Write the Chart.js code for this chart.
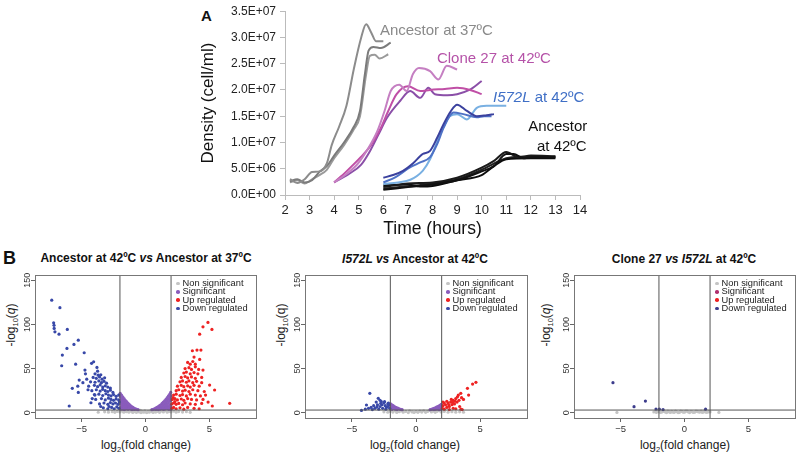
<!DOCTYPE html>
<html>
<head>
<meta charset="utf-8">
<script src="https://cdn.jsdelivr.net/npm/chart.js@4.4.1/dist/chart.umd.min.js"></script>
<style>
body { margin: 0; background: #fff; font-family: "Liberation Sans", Arial, sans-serif; }
#page { position: relative; width: 800px; height: 457px; overflow: hidden; }
.wrap { position: absolute; }
.txt { position: absolute; white-space: nowrap; color: #111; }
.c { transform: translate(-50%, -50%); }
.rot { transform: translate(-50%, -50%) rotate(-90deg); }
.ptitle { font-weight: bold; font-size: 12px; }
.axt { font-size: 12px; color: #222; }
.leg { position: absolute; font-size: 9.3px; line-height: 8.3px; color: #222; }
.leg span.dot { display: inline-block; width: 3.5px; height: 3.5px; border-radius: 50%; margin-right: 3px; vertical-align: middle; }
</style>
</head>
<body>
<div id="page">
  <div class="txt" style="left:201px;top:7px;font-weight:bold;font-size:15px;">A</div>
  <div class="wrap" style="left:190px;top:0;width:410px;height:240px;"><canvas id="growth"></canvas></div>

  <div class="txt" style="left:3px;top:248px;font-weight:bold;font-size:18px;">B</div>
  <div class="txt c ptitle" style="left:146px;top:258px;">Ancestor at 42ºC <i>vs</i> Ancestor at 37ºC</div>
  <div class="txt c ptitle" style="left:415px;top:259px;"><i>I572L vs</i> Ancestor at 42ºC</div>
  <div class="txt c ptitle" style="left:684px;top:259px;">Clone 27 <i>vs I572L</i> at 42ºC</div>

  <div class="txt rot axt" style="left:12px;top:325px;">-log<sub style="font-size:7.5px">10</sub>(<i>q</i>)</div>
  <div class="txt rot axt" style="left:282px;top:325px;">-log<sub style="font-size:7.5px">10</sub>(q)</div>
  <div class="txt rot axt" style="left:547px;top:325px;">-log<sub style="font-size:7.5px">10</sub>(<i>q</i>)</div>
  <div class="txt c axt" style="left:146px;top:446px;">log<sub style="font-size:7.5px">2</sub>(fold change)</div>
  <div class="txt c axt" style="left:415px;top:446px;">log<sub style="font-size:7.5px">2</sub>(fold change)</div>
  <div class="txt c axt" style="left:685px;top:446px;">log<sub style="font-size:7.5px">2</sub>(fold change)</div>

  <div class="wrap" style="left:0;top:240px;width:270px;height:217px;"><canvas id="v1"></canvas></div>
  <div class="wrap" style="left:270px;top:240px;width:265px;height:217px;"><canvas id="v2"></canvas></div>
  <div class="wrap" style="left:535px;top:240px;width:265px;height:217px;"><canvas id="v3"></canvas></div>

  <div class="leg" id="leg1" style="left:176px;top:279px;"></div>
  <div class="leg" id="leg2" style="left:446px;top:279px;"></div>
  <div class="leg" id="leg3" style="left:715px;top:279px;"></div>
</div>

<script>
// ---- Panel A: growth curves (time in hours, density in cells/ml) ----
const anc37A = [[2.2,3.0e6],[2.5,2.3e6],[2.8,3.0e6],[3.1,4.4e6],[3.4,4.5e6],[3.7,6.0e6],[3.9,9.5e6],[4.2,1.3e7],[4.5,1.7e7],[4.8,2.4e7],[5.1,3.0e7],[5.3,3.25e7],[5.5,3.1e7],[5.7,2.93e7],[6.0,2.93e7]];
const anc37B = [[2.2,2.6e6],[2.5,3.0e6],[2.8,2.4e6],[3.1,2.8e6],[3.4,4.4e6],[3.7,5.5e6],[4.0,7.5e6],[4.4,1.0e7],[4.8,1.3e7],[5.05,1.6e7],[5.25,2.3e7],[5.4,2.75e7],[5.6,2.82e7],[5.9,2.8e7],[6.3,2.9e7]];
const anc37C = [[2.2,2.4e6],[2.5,2.8e6],[2.8,2.2e6],[3.1,3.0e6],[3.4,3.8e6],[3.7,4.8e6],[4.0,7.0e6],[4.4,9.5e6],[4.8,1.25e7],[5.05,1.5e7],[5.3,2.3e7],[5.45,2.65e7],[5.65,2.67e7],[5.85,2.6e7],[6.2,2.68e7]];
const clone27A = [[4.0,2.4e6],[4.5,4.0e6],[4.95,5.9e6],[5.4,9.0e6],[5.76,1.22e7],[6.05,1.6e7],[6.3,1.98e7],[6.65,2.1e7],[6.95,1.98e7],[7.2,2.3e7],[7.45,2.42e7],[7.9,2.36e7],[8.24,2.2e7],[8.58,2.46e7],[9.0,2.39e7]];
const clone27B = [[4.0,2.4e6],[4.5,4.5e6],[5.08,7.2e6],[5.5,9.5e6],[5.9,1.28e7],[6.2,1.6e7],[6.54,1.92e7],[7.0,2.07e7],[7.5,1.98e7],[7.9,2.0e7],[8.5,2.02e7],[9.0,2.04e7],[9.53,2.0e7],[10.0,1.92e7]];
const clone27C = [[4.0,2.4e6],[4.6,4.0e6],[5.1,5.8e6],[5.46,8.4e6],[5.8,1.15e7],[6.15,1.47e7],[6.68,1.79e7],[7.09,1.98e7],[7.5,1.85e7],[7.83,2.04e7],[8.1,1.92e7],[8.6,1.9e7],[9.0,1.92e7],[9.5,2.0e7],[10.0,2.17e7]];
const i572lA = [[6.0,3.3e6],[6.4,3.8e6],[6.8,4.6e6],[7.2,6.0e6],[7.6,7.8e6],[7.9,8.4e6],[8.2,1.1e7],[8.45,1.35e7],[8.75,1.6e7],[9.0,1.72e7],[9.4,1.6e7],[9.8,1.5e7],[10.2,1.52e7],[10.5,1.54e7]];
const i572lB = [[6.0,2.4e6],[6.5,3.4e6],[7.1,5.3e6],[7.5,6.2e6],[7.9,7.2e6],[8.2,9.8e6],[8.45,1.28e7],[8.86,1.57e7],[9.25,1.54e7],[9.8,1.48e7],[10.1,1.5e7],[10.4,1.5e7]];
const i572lC = [[6.0,2.1e6],[6.6,2.4e6],[7.1,2.9e6],[7.6,4.6e6],[7.9,6.8e6],[8.2,1.03e7],[8.45,1.3e7],[8.7,1.5e7],[9.0,1.54e7],[9.4,1.44e7],[9.8,1.66e7],[10.2,1.7e7],[11.0,1.7e7]];
const anc42A = [[6.0,1.0e6],[7.0,1.5e6],[8.0,2.0e6],[9.0,2.8e6],[10.0,4.5e6],[10.5,5.5e6],[11.0,7.8e6],[11.3,7.8e6],[11.7,7.0e6],[12.0,7.2e6],[13.0,7.2e6]];
const anc42B = [[6.0,1.5e6],[7.0,2.2e6],[8.0,2.4e6],[9.0,3.3e6],[10.0,5.2e6],[10.5,6.5e6],[11.0,8.2e6],[11.5,7.2e6],[12.0,7.5e6],[13.0,7.4e6]];
const anc42C = [[6.0,1.8e6],[7.0,2.0e6],[7.5,1.6e6],[8.0,1.7e6],[9.0,2.8e6],[10.0,3.8e6],[10.5,5.5e6],[11.0,6.8e6],[12.0,7.0e6],[13.0,7.0e6]];
const anc42D = [[6.0,1.2e6],[8.0,2.2e6],[9.0,3.0e6],[10.0,4.8e6],[11.0,7.0e6],[11.5,7.3e6],[13.0,7.3e6]];

const growthSeries = [
  { pts: anc37A, color: '#8c8c8c' },
  { pts: anc37B, color: '#7b7b7b' },
  { pts: anc37C, color: '#9a9a9a' },
  { pts: clone27A, color: '#c57fc2' },
  { pts: clone27B, color: '#c04fa6' },
  { pts: clone27C, color: '#8b4fa8' },
  { pts: i572lA, color: '#3b419e' },
  { pts: i572lB, color: '#4f72c6' },
  { pts: i572lC, color: '#79b0e2' },
  { pts: anc42A, color: '#111111' },
  { pts: anc42B, color: '#1a1a1a' },
  { pts: anc42C, color: '#0c0c0c' },
  { pts: anc42D, color: '#222222' }
];

// ---- Panel B: volcano plots [log2 fold change, -log10 q] ----
const v1NonSig = [[-3.7,0.5],[-3.2,1.0],[-2.9,0.6],[-2.6,1.2],[-2.4,0.4],[-2.2,1.5],[-2.0,0.8],[-1.8,1.8],[-1.7,0.5],[-1.5,1.2],[-1.4,2.2],[-1.3,0.6],[-1.1,1.6],[-1.0,0.3],[-0.9,2.4],[-0.8,1.0],[-0.7,0.4],[-0.6,1.8],[-0.5,0.9],[-0.4,2.6],[-0.35,0.2],[-0.25,1.3],[-0.15,0.5],[-0.05,2.0],[0.0,0.8],[0.1,0.2],[0.2,1.5],[0.3,0.6],[0.4,2.4],[0.5,1.1],[0.6,0.3],[0.7,1.9],[0.8,0.7],[0.9,2.5],[1.0,1.3],[1.1,0.4],[1.25,2.0],[1.4,0.9],[1.55,2.6],[1.7,0.5],[1.85,1.6],[2.0,0.9],[2.2,1.9],[2.4,0.5],[2.6,1.3],[2.9,0.7],[3.2,1.1],[3.5,0.4]];
const v1Sig = [[-1.98,22],[-1.97,18],[-1.96,14],[-1.95,10],[-1.94,6],[-1.93,4],[-1.88,20],[-1.87,16],[-1.86,12],[-1.85,8],[-1.84,5],[-1.78,18],[-1.77,14],[-1.76,10],[-1.75,7],[-1.74,4],[-1.68,16],[-1.67,12],[-1.66,9],[-1.65,6],[-1.64,3.6],[-1.58,14],[-1.57,11],[-1.56,8],[-1.55,5],[-1.48,12.5],[-1.47,9.5],[-1.46,7],[-1.45,4.5],[-1.38,11],[-1.37,8.5],[-1.36,6],[-1.35,4],[-1.28,9.5],[-1.27,7],[-1.26,5],[-1.18,8],[-1.17,6],[-1.16,4.2],[-1.08,7],[-1.07,5],[-1.06,3.6],[-0.98,6],[-0.97,4.3],[-0.88,5],[-0.87,3.7],[-0.78,4.3],[-0.68,3.8],[-0.58,3.4],
  [0.5,3.4],[0.6,3.8],[0.7,4.4],[0.8,5.2],[0.8,3.7],[0.9,6],[0.9,4.2],[1.0,7],[1.0,4.8],[1.0,3.5],[1.1,8],[1.1,5.6],[1.1,4],[1.2,9],[1.2,6.5],[1.2,4.4],[1.3,10.5],[1.3,7.5],[1.3,5],[1.4,12],[1.4,8.5],[1.4,5.5],[1.4,3.8],[1.5,13.5],[1.5,10],[1.5,6.5],[1.5,4.2],[1.6,15],[1.6,11],[1.6,7.5],[1.6,4.8],[1.7,17],[1.7,13],[1.7,9],[1.7,5.5],[1.8,19],[1.8,15],[1.8,11],[1.8,7],[1.8,4],[1.9,21],[1.9,17],[1.9,13],[1.9,9],[1.9,5],[1.97,23],[1.97,19],[1.97,14],[1.97,8],[1.97,4]];
const v1Down = [[-7.34,127.5],[-6.7,119],[-7.19,101.8],[-7.16,99],[-7.15,95.5],[-7.09,91.6],[-6.77,89],[-6.12,94.3],[-5.6,77.4],[-5.26,82.2],[-6.15,72.8],[-6.51,65.3],[-4.8,67.9],[-6.56,53.2],[-5.47,55],[-4.22,55.9],[-4.06,57.7],[-4.74,48.3],[-3.8,51.3],[-3.75,47],[-4.7,44.1],[-5.19,37],[-5.73,27.6],[-5.3,30],[-5.26,23],[-5.97,7.6],[-4.27,11.3],[-4.17,16],[-3.96,20],[-4.9,34],[-4.5,26],[-4.6,38],
  [-3.95,44],[-3.7,42.5],[-3.5,43],[-4.1,40],[-3.85,39],[-3.6,40.5],[-3.4,38],[-3.2,39.5],[-4.3,35],[-3.95,34.5],[-3.65,36],[-3.45,34],[-3.25,35.5],[-3.05,33.5],[-4.45,30],[-4.0,31],[-3.75,29.5],[-3.55,31.5],[-3.35,29],[-3.15,30.5],[-2.95,29],[-2.75,28],[-4.2,25],[-3.85,26],[-3.55,24.5],[-3.35,26.5],[-3.15,25],[-2.95,24],[-2.75,25.5],[-2.55,23],[-4.0,20.5],[-3.65,21],[-3.35,19.5],[-3.1,21.5],[-2.9,20],[-2.7,19],[-2.5,20.5],[-2.3,18.5],[-2.1,20],[-3.9,15],[-3.45,16],[-3.15,14.5],[-2.9,16.5],[-2.7,15],[-2.5,14],[-2.3,15.5],[-2.1,14.5],[-3.6,10],[-3.25,11],[-2.95,9.5],[-2.75,11.5],[-2.55,10],[-2.35,11],[-2.15,9.5],[-2.05,12],[-3.3,5.5],[-2.95,4.5],[-2.65,6],[-2.45,4.5],[-2.25,6.5],[-2.08,5],[-2.85,7],[-3.5,7]];
const v1Up = [[4.89,102.3],[4.5,97.3],[5.2,94.3],[4.24,89],[3.67,70.2],[4.03,71],[4.34,71],[4.24,60.4],[3.8,63],[4.5,48.3],[4.16,49],[5.02,31.3],[5.41,25.7],[6.59,10.6],[5.23,7.6],[4.9,12],[4.7,20],[4.4,40],[3.9,55],
  [3.3,57],[3.5,55],[3.7,58],[3.1,50],[3.4,51],[3.6,49],[3.9,52],[3.0,45],[3.2,46],[3.5,44],[3.8,45.5],[4.1,44],[2.8,40],[3.1,41],[3.3,39.5],[3.6,40.5],[3.9,39],[2.7,35],[2.9,36],[3.2,34.5],[3.4,36],[3.7,34],[4.0,35.5],[4.4,34],[2.5,30],[2.8,31],[3.0,29.5],[3.3,30.5],[3.5,29],[3.8,31],[4.2,30],[2.4,25],[2.6,26],[2.9,24.5],[3.1,25.5],[3.4,24],[3.7,26],[4.1,25],[4.6,24],[2.2,20],[2.4,21],[2.7,19.5],[2.9,20.5],[3.2,19],[3.5,21],[3.9,20],[4.3,19],[2.1,15],[2.3,16],[2.5,14.5],[2.8,15.5],[3.0,14],[3.3,16],[3.6,15],[4.0,14.5],[4.5,15],[2.05,10],[2.2,11],[2.4,9.5],[2.6,10.5],[2.9,9],[3.1,11],[3.5,10],[3.9,9.5],[4.4,10.5],[2.05,5],[2.2,6],[2.4,4.5],[2.7,5.5],[3.0,4],[3.3,6],[3.8,5],[4.2,4.5],[2.15,17],[2.3,12.5]];

const v2NonSig = [[-2.5,1.0],[-2.2,0.5],[-2.0,1.6],[-1.8,0.7],[-1.6,2.0],[-1.5,0.3],[-1.3,1.2],[-1.1,2.4],[-1.0,0.6],[-0.8,1.5],[-0.6,0.2],[-0.5,2.0],[-0.3,0.9],[-0.15,0.3],[0.0,1.3],[0.15,0.4],[0.3,1.8],[0.45,0.7],[0.6,2.2],[0.75,0.4],[0.9,1.4],[1.05,2.5],[1.2,0.8],[1.35,1.9],[1.5,0.4],[1.65,1.6],[1.8,2.4],[1.95,0.8],[2.2,1.5],[2.5,0.5],[2.8,1.2],[3.1,0.6],[3.4,1.0],[3.7,0.5]];
const v2Sig = [[-1.98,10],[-1.97,7],[-1.96,4.5],[-1.88,9],[-1.87,6],[-1.86,3.8],[-1.78,8],[-1.77,5.5],[-1.68,7],[-1.67,4.5],[-1.58,6.2],[-1.57,3.9],[-1.48,5.5],[-1.47,3.6],[-1.38,4.8],[-1.28,4.2],[-1.18,3.7],[-1.08,3.4],
  [1.1,3.4],[1.2,3.8],[1.3,4.3],[1.4,4.9],[1.4,3.5],[1.5,5.6],[1.5,3.8],[1.6,6.3],[1.6,4.2],[1.7,7],[1.7,4.6],[1.8,7.8],[1.8,5.2],[1.8,3.6],[1.9,8.6],[1.9,5.8],[1.9,4],[1.97,9.5],[1.97,6.5],[1.97,4.2]];
const v2Down = [[-3.6,21.9],[-4.25,2.6],[-3.86,8.7],[-2.94,16.3],[-2.8,14],[-2.7,12.5],[-2.2,10],[-3.5,6],[-3.2,5],[-3.0,9],[-2.5,11],[-2.4,8],[-2.3,6],[-2.1,9],[-2.05,5],[-2.6,5],[-2.9,4],[-3.4,3.5],[-3.95,4],[-2.8,7],[-2.45,12.5],[-2.15,11],[-2.65,9],[-3.1,12],[-3.7,5],[-3.3,8],[-2.35,4],[-2.75,10.5],[-3.05,6.5],[-2.2,7]];
const v2Up = [[4.67,34.4],[4.41,32.4],[4.01,27.6],[4.1,20],[3.49,22],[3.23,18],[3.3,20],[3.1,16],[2.9,14],[2.7,12],[2.5,11],[2.3,9],[2.1,8],[2.05,5],[2.2,4],[2.4,6],[2.6,7],[2.8,9],[3.0,10],[3.2,12],[3.4,7],[3.5,4],[3.6,3.5],[2.9,5],[2.6,3.5],[3.1,4.5],[3.7,15],[2.4,13],[2.2,11],[2.75,15],[3.35,14],[3.55,17],[2.1,12],[2.55,9],[2.85,11.5],[3.05,13]];

const v3NonSig = [[-5.29,0.3],[2.69,0.3],[-2.4,0.8],[-2.3,1.6],[-2.2,0.3],[-2.1,1.9],[-2.0,1.2],[-1.9,0.4],[-1.8,0.5],[-1.7,1.8],[-1.6,1.5],[-1.5,0.7],[-1.4,0.2],[-1.3,1.9],[-1.2,0.9],[-1.1,0.3],[-1.0,1.6],[-0.9,0.6],[-0.8,0.4],[-0.7,1.9],[-0.6,1.1],[-0.5,0.2],[-0.4,0.3],[-0.3,1.7],[-0.2,1.4],[-0.1,0.5],[0.0,0.6],[0.1,1.9],[0.2,1.8],[0.3,0.8],[0.4,0.2],[0.5,1.5],[0.6,1.0],[0.7,0.3],[0.8,0.5],[0.9,1.9],[1.0,1.5],[1.1,0.8],[1.2,0.7],[1.3,1.7],[1.4,0.3],[1.5,1.0],[1.6,1.2],[1.7,0.4],[1.8,0.5],[1.9,1.6],[2.0,0.9]];
const v3Sig = [[-1.97,4],[-1.68,3.5],[1.65,4]];
const v3Down = [[-5.6,34],[-3.06,13.2],[-3.95,6.8],[-2.23,4.2]];
const v3Up = [];

const foldCutoffs = [-2, 2];   // vertical guide lines
const qCutoff = 3;             // horizontal guide line
const xTickVals = [-5, 0, 5];
const yTickVals = [0, 50, 100, 150];
const legendNames = ['Non significant', 'Significant', 'Up regulated', 'Down regulated'];

const FONT = '"Liberation Sans", Arial, sans-serif';
Chart.defaults.font.family = FONT;

function sci(v) {
  if (v === 0) return '0.0E+00';
  const e = Math.floor(Math.log10(v) + 1e-9);
  const m = v / Math.pow(10, e);
  return m.toFixed(1) + 'E+' + String(e).padStart(2, '0');
}

// text labels next to the curves, placed in data units
const curveLabels = {
  id: 'curveLabels',
  afterDatasetsDraw(chart) {
    const { ctx, scales: { x, y } } = chart;
    const items = [
      { parts: [['Ancestor at 37ºC', '']], at: [5.86, 3.12e7], color: '#8a8a8a' },
      { parts: [['Clone 27 at 42ºC', '']], at: [8.18, 2.59e7], color: '#b552a8' },
      { parts: [['I572L', 'italic '], [' at 42ºC', '']], at: [10.46, 1.85e7], color: '#3f6fc6' },
      { parts: [['Ancestor', '']], at: [11.89, 1.29e7], color: '#111' },
      { parts: [['at 42ºC', '']], at: [12.25, 9.1e6], color: '#111' }
    ];
    ctx.save();
    ctx.textBaseline = 'middle';
    ctx.textAlign = 'left';
    items.forEach(it => {
      let px = x.getPixelForValue(it.at[0]);
      const py = y.getPixelForValue(it.at[1]);
      ctx.fillStyle = it.color;
      it.parts.forEach(([t, style]) => {
        ctx.font = style + '15px ' + FONT;
        ctx.fillText(t, px, py);
        px += ctx.measureText(t).width;
      });
    });
    ctx.restore();
  }
};

new Chart(document.getElementById('growth'), {
  type: 'line',
  data: {
    datasets: growthSeries.map(s => ({
      data: s.pts.map(p => ({ x: p[0], y: p[1] })),
      borderColor: s.color,
      borderWidth: 2,
      pointRadius: 0,
      cubicInterpolationMode: 'monotone',
      fill: false
    }))
  },
  options: {
    responsive: true,
    maintainAspectRatio: false,
    animation: false,
    devicePixelRatio: 1,
    layout: { padding: { top: 10, right: 20 } },
    plugins: { legend: { display: false }, tooltip: { enabled: false } },
    scales: {
      x: {
        type: 'linear', min: 2, max: 14,
        ticks: { stepSize: 1, color: '#222', font: { size: 13 }, padding: 3 },
        grid: { drawOnChartArea: false, color: '#bbb', tickLength: 5 },
        border: { color: '#bbb' },
        title: { display: true, text: 'Time (hours)', color: '#111', font: { size: 17.5 }, padding: 0 },
        afterFit(s) { s.height = 45; }
      },
      y: {
        min: 0, max: 3.5e7,
        ticks: { stepSize: 5e6, color: '#222', font: { size: 12 }, padding: 4, callback: v => sci(v) },
        grid: { drawOnChartArea: false, color: '#bbb', tickLength: 5 },
        border: { color: '#bbb' },
        title: { display: true, text: 'Density (cell/ml)', color: '#111', font: { size: 17 }, padding: { top: 8, bottom: 0 } },
        afterFit(s) { s.width = 95; }
      }
    }
  },
  plugins: [curveLabels]
});

// box around each volcano plot
const frame = {
  id: 'frame',
  afterDraw(chart) {
    const { ctx, chartArea: a } = chart;
    ctx.save();
    ctx.strokeStyle = '#777';
    ctx.lineWidth = 1;
    ctx.strokeRect(Math.round(a.left) + 0.5, Math.round(a.top) + 0.5, Math.round(a.right - a.left), Math.round(a.bottom - a.top));
    ctx.restore();
  }
};

const XMIN = -8.65, XMAX = 8.65, YMIN = -6, YMAX = 156;

function guide(pts) {
  return { type: 'scatter', data: pts, showLine: true, borderColor: '#555', borderWidth: 1, pointRadius: 0, fill: false };
}
function dots(pts, color) {
  return { data: pts.map(p => ({ x: p[0], y: p[1] })), backgroundColor: color, borderWidth: 0, pointRadius: 1.6 };
}

function volcano(id, nonSig, sig, up, down, sigColor, downColor, yWidth, padRight) {
  const datasets = [];
  foldCutoffs.forEach(c => datasets.push(guide([{ x: c, y: YMIN }, { x: c, y: YMAX }])));
  datasets.push(guide([{ x: XMIN, y: qCutoff }, { x: XMAX, y: qCutoff }]));
  datasets.push(dots(down, downColor));
  datasets.push(dots(up, '#ee2222'));
  datasets.push(dots(sig, sigColor));
  datasets.push(dots(nonSig, '#c4c4c4'));
  new Chart(document.getElementById(id), {
    type: 'scatter',
    data: { datasets },
    options: {
      responsive: true,
      maintainAspectRatio: false,
      animation: false,
      devicePixelRatio: 1,
      layout: { padding: { top: 35, right: padRight } },
      plugins: { legend: { display: false }, tooltip: { enabled: false } },
      scales: {
        x: {
          type: 'linear', min: XMIN, max: XMAX,
          afterBuildTicks(s) { s.ticks = xTickVals.map(v => ({ value: v })); },
          ticks: { color: '#333', font: { size: 9.5 }, padding: 2, callback: v => (v < 0 ? '\u2212' + Math.abs(v) : String(v)) },
          grid: { drawOnChartArea: false, color: '#666', tickLength: 4 },
          border: { color: '#777' },
          afterFit(s) { s.height = 39; }
        },
        y: {
          type: 'linear', min: YMIN, max: YMAX,
          afterBuildTicks(s) { s.ticks = yTickVals.map(v => ({ value: v })); },
          ticks: { color: '#333', font: { size: 9 }, minRotation: 90, maxRotation: 90, crossAlign: 'center', padding: -4, callback: v => String(v) },
          grid: { drawOnChartArea: false, color: '#666', tickLength: 4 },
          border: { color: '#777' },
          afterFit(s) { s.width = yWidth; }
        }
      }
    },
    plugins: [frame]
  });
}

volcano('v1', v1NonSig, v1Sig, v1Up, v1Down, '#8a5cbc', '#3848a8', 35, 14);
volcano('v2', v2NonSig, v2Sig, v2Up, v2Down, '#8a5cbc', '#3848a8', 35, 8);
volcano('v3', v3NonSig, v3Sig, v3Up, v3Down, '#3c3c8c', '#3c3c8c', 39, 5);

// small legends inside the volcano plots
const legColors = [
  ['#c4c4c4', '#8a5cbc', '#ee2222', '#3848a8'],
  ['#c4c4c4', '#8a5cbc', '#ee2222', '#3848a8'],
  ['#c4c4c4', '#b0306e', '#ee2222', '#3c3c8c']
];
['leg1', 'leg2', 'leg3'].forEach((id, k) => {
  const el = document.getElementById(id);
  legendNames.forEach((name, i) => {
    const row = document.createElement('div');
    row.innerHTML = '<span class="dot" style="background:' + legColors[k][i] + '"></span>' + name;
    el.appendChild(row);
  });
});
</script>
</body>
</html>
